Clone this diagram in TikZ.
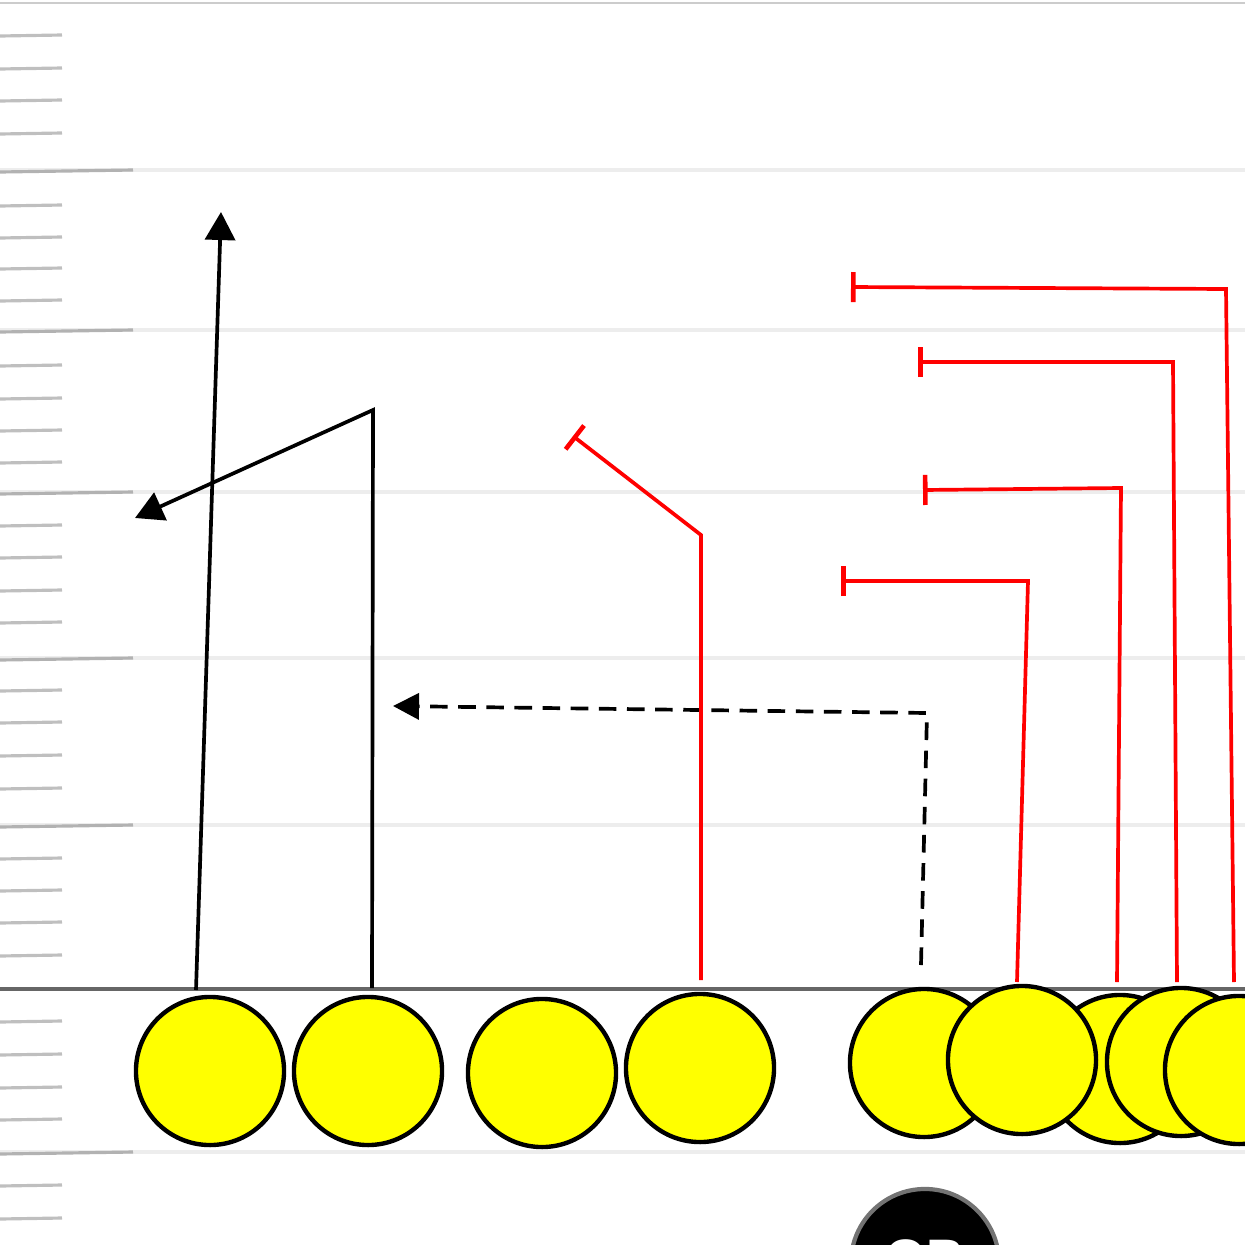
\documentclass[tikz,border=0pt]{standalone}
\usepackage{fontspec}
\setmainfont{Liberation Sans}
\usetikzlibrary{arrows.meta}
\definecolor{pyellow}{RGB}{255,255,0}
\begin{document}
\begin{tikzpicture}[x=0.01cm,y=-0.01cm,
  yardline/.style={draw=black!7,line width=0.9pt},
  hashshort/.style={draw=black!25,line width=0.9pt},
  hashlong/.style={draw=black!30,line width=0.9pt},
  player/.style={circle,draw=black,fill=pyellow,line width=1.25pt,minimum size=1.48cm,inner sep=0pt},
  qbnode/.style={circle,draw=black!55,fill=black,line width=1.2pt,minimum size=1.48cm,inner sep=0pt,text=white,font=\bfseries\fontsize{15}{15}\selectfont},
  runroute/.style={draw=black,line width=1.05pt,-{Triangle[length=0.28cm,width=0.3cm]}},
  motion/.style={draw=black,line width=1.05pt,dash pattern=on 5pt off 3pt,-{Triangle[length=0.26cm,width=0.26cm]}},
  block/.style={draw=red,line width=1.05pt,-{Bar[width=0.3cm,line width=1.3pt]}},
]
\useasboundingbox (0,0) rectangle (1245,1245);
\begin{scope}
\clip (0,0) rectangle (1245,1245);
% top border
\draw[draw=black!20,line width=0.8pt] (0,3) -- (1245,3);
% yard lines
\foreach \y in {170,330,492,658,825,1152} {
  \draw[yardline] (0,\y) -- (1245,\y);
  \draw[hashlong] (0,\y+2) -- (133,\y);
}
% short hashes
\foreach \y in {35,68,100,133,205,237,268,300,365,398,430,462,525,557,590,622,690,722,755,788,858,890,922,955,1021,1054,1087,1119,1185,1218} {
  \draw[hashshort] (0,\y+1) -- (62,\y);
}
% line of scrimmage
\draw[draw=black!60,line width=1pt] (0,989) -- (1245,989);

% route coordinates
\coordinate (r1s) at (196,990);
\coordinate (r1e) at (221,212);
\coordinate (r2s) at (372,988);
\coordinate (r2c) at (373,410);
\coordinate (r2e) at (135,518);
\coordinate (ms) at (921,965);
\coordinate (mc) at (927,713);
\coordinate (me) at (393,706);
\coordinate (b1s) at (701,980);
\coordinate (b1c) at (701,535);
\coordinate (b1e) at (573,436);
\coordinate (b2s) at (1017,982);
\coordinate (b2c) at (1028,581);
\coordinate (b2e) at (841,581);
\coordinate (b3s) at (1117,982);
\coordinate (b3c) at (1121,488);
\coordinate (b3e) at (923,490);
\coordinate (b4s) at (1177,982);
\coordinate (b4c) at (1173,362);
\coordinate (b4e) at (918,362);
\coordinate (b5s) at (1234,982);
\coordinate (b5c) at (1226,289);
\coordinate (b5e) at (851,287);

% routes
\draw[runroute] (r1s) -- (r1e);
\draw[runroute] (r2s) -- (r2c) -- (r2e);
\draw[motion] (ms) -- (mc) -- (me);
\draw[block] (b1s) -- (b1c) -- (b1e);
\draw[block] (b2s) -- (b2c) -- (b2e);
\draw[block] (b3s) -- (b3c) -- (b3e);
\draw[block] (b4s) -- (b4c) -- (b4e);
\draw[block] (b5s) -- (b5c) -- (b5e);

% players
\node[player] (p1) at (210,1071) {};
\node[player] (p2) at (368,1071) {};
\node[player] (p3) at (542,1073) {};
\node[player] (p4) at (700,1068) {};
\node[player] (p5) at (924,1063) {};
\node[player] (p7) at (1120,1069) {};
\node[player] (p6) at (1022,1060) {};
\node[player] (p8) at (1181,1062) {};
\node[player] (p9) at (1239,1070) {};
% quarterback
\node[qbnode] (qb) at (925,1263) {QB};
\end{scope}
\end{tikzpicture}
\end{document}
